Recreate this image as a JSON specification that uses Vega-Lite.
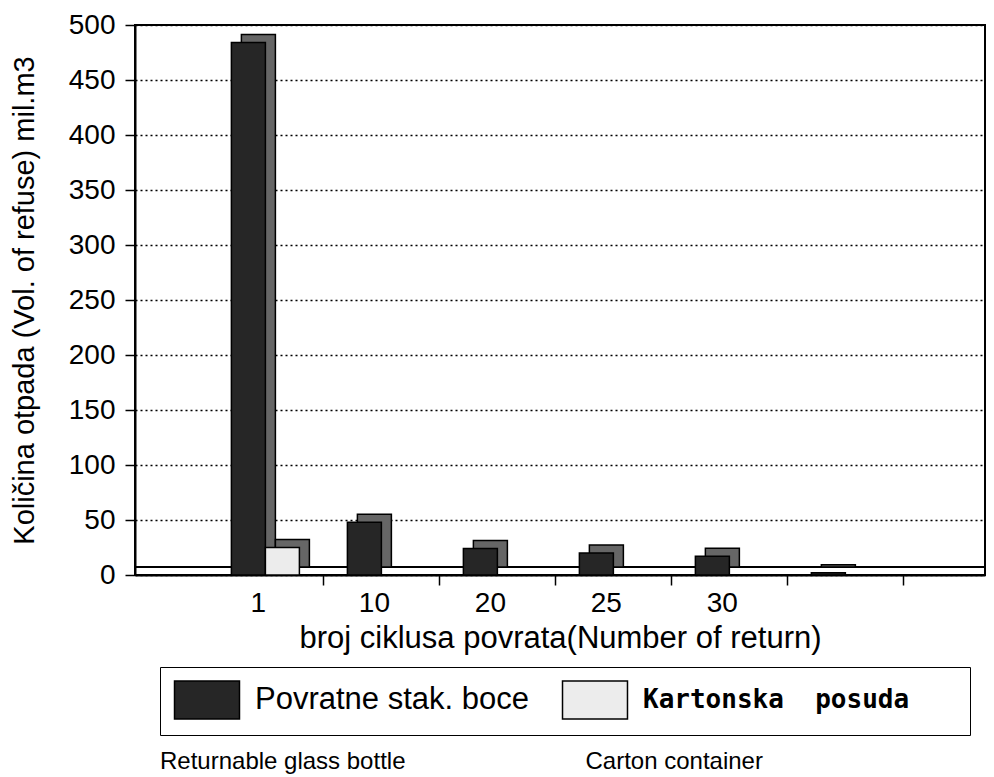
{
  "$schema": "https://vega.github.io/schema/vega-lite/v6.json",
  "width": 850,
  "height": 550,
  "autosize": {"type": "none"},
  "padding": {"left": 135, "top": 25, "right": 9, "bottom": 202},
  "background": "white",
  "config": {
    "view": {"stroke": "black", "strokeWidth": 2},
    "font": "Liberation Sans",
    "axis": {"domainColor": "black", "domainWidth": 2, "tickColor": "black", "tickWidth": 1.5, "labelColor": "black", "titleColor": "black", "labelFont": "Liberation Sans", "titleFont": "Liberation Sans", "titleFontWeight": "normal"}
  },
  "title": {
    "text": "Returnable glass bottle\u00a0\u00a0\u00a0\u00a0\u00a0\u00a0\u00a0\u00a0\u00a0\u00a0\u00a0\u00a0\u00a0\u00a0\u00a0\u00a0\u00a0\u00a0\u00a0\u00a0\u00a0\u00a0\u00a0\u00a0\u00a0\u00a0\u00a0Carton container",
    "orient": "bottom",
    "anchor": "start",
    "frame": "group",
    "dx": 25,
    "offset": 14,
    "fontSize": 24,
    "font": "Liberation Sans",
    "fontWeight": "normal",
    "color": "black"
  },
  "data": {
    "values": [
      {"ciklus": "1", "vrsta": "Povratne stak. boce", "kolicina": 484},
      {"ciklus": "1", "vrsta": "Kartonska posuda", "kolicina": 25},
      {"ciklus": "10", "vrsta": "Povratne stak. boce", "kolicina": 48},
      {"ciklus": "20", "vrsta": "Povratne stak. boce", "kolicina": 24},
      {"ciklus": "25", "vrsta": "Povratne stak. boce", "kolicina": 20},
      {"ciklus": "30", "vrsta": "Povratne stak. boce", "kolicina": 17},
      {"ciklus": " ", "vrsta": "Povratne stak. boce", "kolicina": 2}
    ]
  },
  "encoding": {
    "x": {
      "field": "ciklus",
      "type": "nominal",
      "scale": {"domain": ["1", "10", "20", "25", "30", " "], "paddingInner": 0, "paddingOuter": 0.664, "align": 0.47},
      "axis": {
        "title": "broj ciklusa povrata(Number of return)",
        "titleFontSize": 31,
        "titlePadding": 6,
        "labelAngle": 0,
        "labelFontSize": 28,
        "labelPadding": 4,
        "tickSize": 10,
        "bandPosition": 1,
        "labelOffset": -7
      }
    },
    "y": {
      "field": "kolicina",
      "type": "quantitative",
      "scale": {"domain": [0, 500], "nice": false},
      "axis": {
        "title": "Količina otpada (Vol. of refuse) mil.m3",
        "titleFontSize": 29,
        "titleX": -96,
        "values": [0, 50, 100, 150, 200, 250, 300, 350, 400, 450, 500],
        "labelFontSize": 28,
        "labelPadding": 10,
        "tickSize": 10,
        "grid": true,
        "gridColor": "black",
        "gridDash": [2, 3],
        "gridWidth": 1.5,
        "gridOpacity": 1
      }
    }
  },
  "layer": [
    {
      "mark": {"type": "rule", "yOffset": -8, "color": "black", "strokeWidth": 1.5},
      "encoding": {"y": {"datum": 0}, "x": null}
    },
    {
      "transform": [{"filter": "datum.vrsta == 'Povratne stak. boce'"}],
      "mark": {"type": "bar", "width": 34, "xOffset": -7, "yOffset": -8, "fill": "#666666", "stroke": "black", "strokeWidth": 1.5}
    },
    {
      "transform": [{"filter": "datum.vrsta == 'Povratne stak. boce'"}],
      "mark": {"type": "bar", "width": 34, "xOffset": -17, "stroke": "black", "strokeWidth": 1.5},
      "encoding": {
        "color": {
          "field": "vrsta",
          "type": "nominal",
          "scale": {"domain": ["Povratne stak. boce", "Kartonska posuda"], "range": ["#262626", "#ececec"]},
          "legend": {
            "orient": "none",
            "legendX": 25,
            "legendY": 642,
            "direction": "horizontal",
            "columns": 2,
            "title": null,
            "strokeColor": "black",
            "padding": 13,
            "symbolType": "M-1.71,-1H1.71V1H-1.71Z",
            "symbolSize": 1444,
            "symbolStrokeColor": "black",
            "symbolStrokeWidth": 1.5,
            "symbolOpacity": 1,
            "labelFontSize": {"expr": "datum.value == 'Kartonska posuda' ? 26 : 31"},
            "labelFont": {"expr": "datum.value == 'Kartonska posuda' ? 'DejaVu Sans Mono' : 'Liberation Sans'"},
            "labelFontWeight": {"expr": "datum.value == 'Kartonska posuda' ? 'bold' : 'normal'"},
            "labelColor": "black",
            "labelOffset": 28,
            "symbolOffset": 14,
            "columnPadding": 30,
            "labelLimit": 0,
            "labelExpr": "datum.label == 'Kartonska posuda' ? 'Kartonska\u00a0\u00a0posuda\u00a0\u00a0\u00a0\u200b' : datum.label"
          }
        }
      }
    },
    {
      "transform": [{"filter": "datum.vrsta == 'Kartonska posuda'"}],
      "mark": {"type": "bar", "width": 34, "xOffset": 27, "yOffset": -8, "fill": "#666666", "stroke": "black", "strokeWidth": 1.5}
    },
    {
      "transform": [{"filter": "datum.vrsta == 'Kartonska posuda'"}],
      "mark": {"type": "bar", "width": 34, "xOffset": 17, "stroke": "black", "strokeWidth": 1.5},
      "encoding": {
        "color": {"field": "vrsta", "type": "nominal"}
      }
    }
  ]
}
